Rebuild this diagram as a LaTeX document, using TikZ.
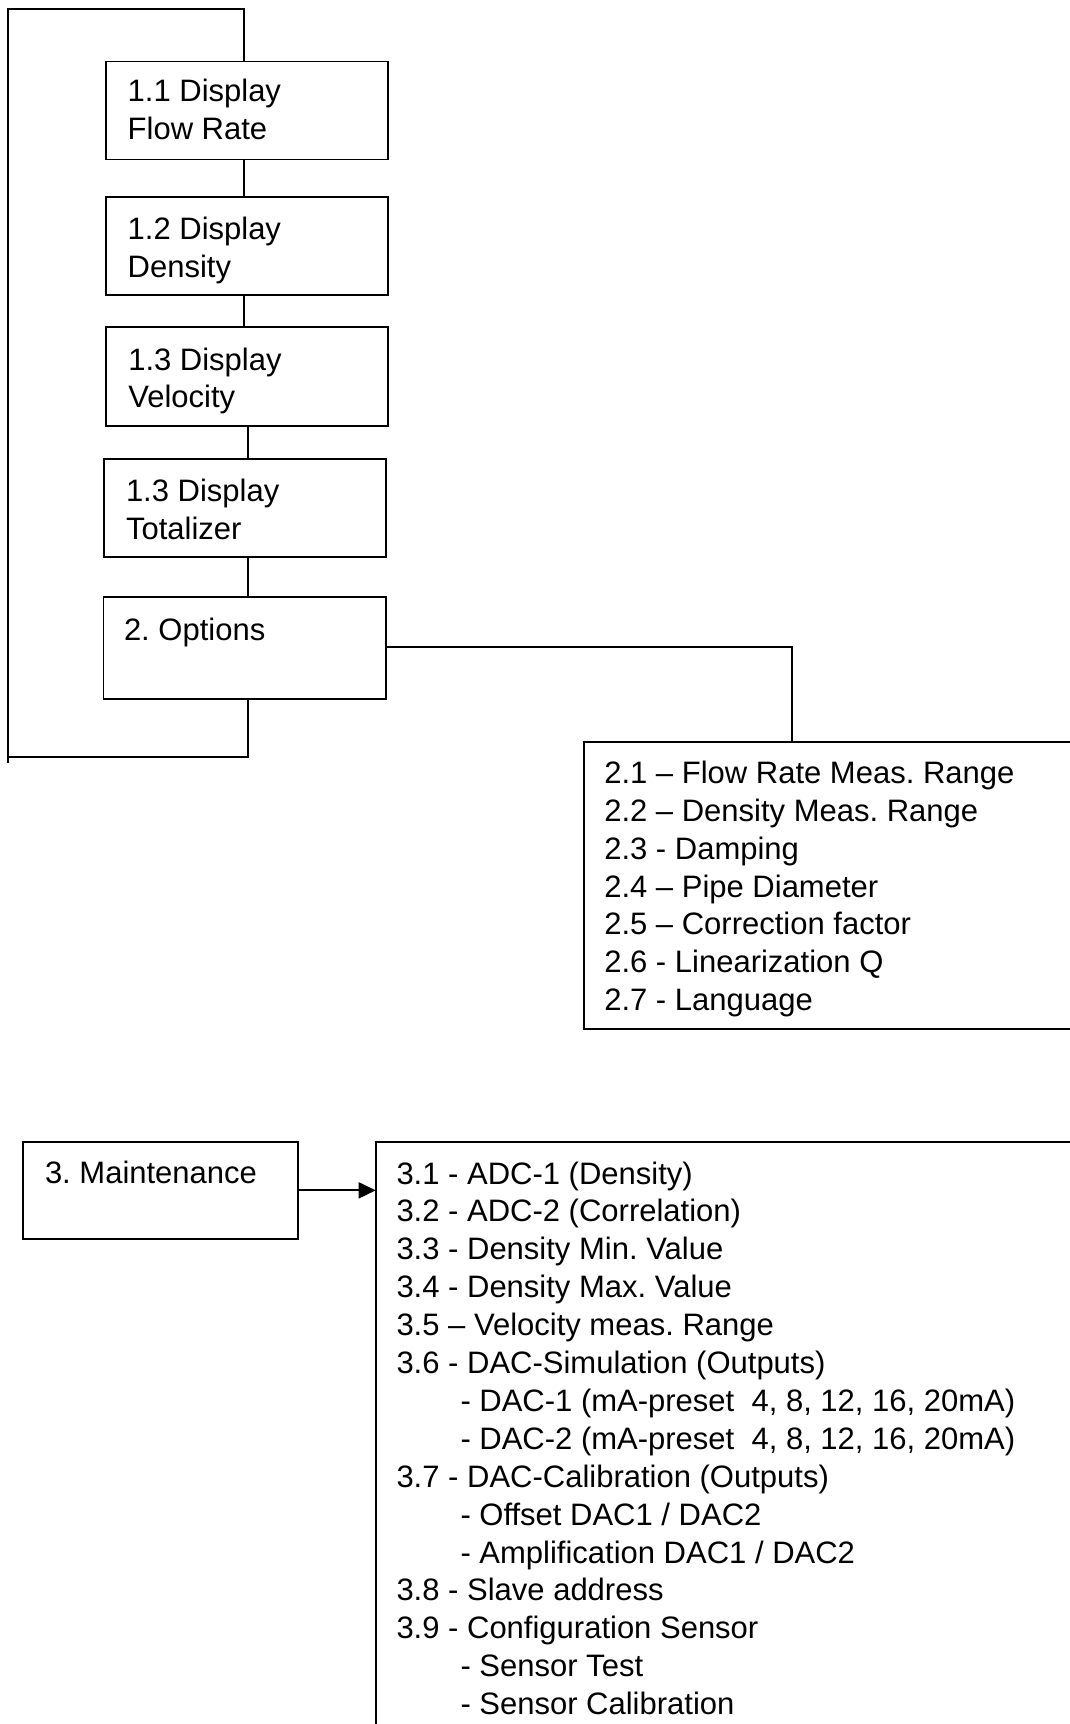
\documentclass[tikz,border=0pt]{standalone}
\usepackage{fontspec}
\setmainfont{Liberation Sans}
\usetikzlibrary{arrows.meta}
\frenchspacing
\newcommand{\stk}[1]{\vtop{\baselineskip=37.9pt\lineskiplimit=-100pt\lineskip=0pt #1}}
\newcommand{\ind}{\hskip64pt}
\begin{document}
\begin{tikzpicture}[x=1pt,y=-1pt,
  box/.style={draw=black,line width=1.8pt,rectangle,inner sep=0,outer sep=0,anchor=north west},
  txt/.style={anchor=base west,inner sep=0,outer sep=0,font=\fontsize{31}{37.9}\selectfont},
  conn/.style={draw=black,line width=1.8pt}]
\useasboundingbox (0,0) rectangle (1070,1724);
\clip (0,0) rectangle (1070,1724);
% boxes
\node[box,minimum width=282.6pt,minimum height=98pt] (b11) at (105.7,61.5) {};
\node[box,minimum width=282.6pt,minimum height=98pt] (b12) at (105.7,197.3) {};
\node[box,minimum width=282.6pt,minimum height=98.4pt] (b13v) at (105.7,327.3) {};
\node[box,minimum width=282.3pt,minimum height=98pt] (b13t) at (103.7,459.3) {};
\node[box,minimum width=282.5pt,minimum height=102.3pt] (bopt) at (103.5,597) {};
\node[box,minimum width=500pt,minimum height=287.6pt] (b2) at (583.7,741.7) {};
\node[box,minimum width=275pt,minimum height=97.3pt] (bm) at (23.3,1141.7) {};
\node[box,minimum width=710pt,minimum height=620pt] (b3) at (375.7,1142) {};
% texts
\node[txt] (t11) at (127.7,101.7) {\stk{\hbox{1.1 Display}\hbox{Flow Rate}}};
\node[txt] (t12) at (127.7,239.3) {\stk{\hbox{1.2 Display}\hbox{Density}}};
\node[txt] (t13v) at (128.3,370) {\stk{\hbox{1.3 Display}\hbox{Velocity}}};
\node[txt] (t13t) at (126,501.7) {\stk{\hbox{1.3 Display}\hbox{Totalizer}}};
\node[txt] (topt) at (124,640) {2. Options};
\node[txt] (t2) at (604.3,783.3) {\stk{%
  \hbox{2.1 – Flow Rate Meas. Range}%
  \hbox{2.2 – Density Meas. Range}%
  \hbox{2.3 - Damping}%
  \hbox{2.4 – Pipe Diameter}%
  \hbox{2.5 – Correction factor}%
  \hbox{2.6 - Linearization Q}%
  \hbox{2.7 - Language}}};
\node[txt] (tm) at (45,1183.3) {3. Maintenance};
\node[txt] (t3) at (396.5,1184) {\stk{%
  \hbox{3.1 - ADC-1 (Density)}%
  \hbox{3.2 - ADC-2 (Correlation)}%
  \hbox{3.3 - Density Min. Value}%
  \hbox{3.4 - Density Max. Value}%
  \hbox{3.5 – Velocity meas. Range}%
  \hbox{3.6 - DAC-Simulation (Outputs)}%
  \hbox{\ind- DAC-1 (mA-preset~ 4, 8, 12, 16, 20mA)}%
  \hbox{\ind- DAC-2 (mA-preset~ 4, 8, 12, 16, 20mA)}%
  \hbox{3.7 - DAC-Calibration (Outputs)}%
  \hbox{\ind- Offset DAC1 / DAC2}%
  \hbox{\ind- Amplification DAC1 / DAC2}%
  \hbox{3.8 - Slave address}%
  \hbox{3.9 - Configuration Sensor}%
  \hbox{\ind- Sensor Test}%
  \hbox{\ind- Sensor Calibration}}};
% connectors
\coordinate (topR) at (244,9);
\coordinate (topL) at (8,9);
\coordinate (botL) at (8,763.3);
\coordinate (loopB) at (248,757.3);
\coordinate (loopL) at (8,757.3);
\coordinate (optR) at (792.3,647);
\draw[conn] (244,0 |- b11.north) -- (topR) -- (topL) -- (botL);
\draw[conn] (244,0 |- b11.south) -- (244,0 |- b12.north);
\draw[conn] (244,0 |- b12.south) -- (244,0 |- b13v.north);
\draw[conn] (248,0 |- b13v.south) -- (248,0 |- b13t.north);
\draw[conn] (248,0 |- b13t.south) -- (248,0 |- bopt.north);
\draw[conn] (248,0 |- bopt.south) -- (loopB) -- (loopL);
\draw[conn] (bopt.east |- optR) -- (optR) -- (optR |- b2.north);
\draw[conn,-{Triangle[length=17pt,width=16pt]}] (bm.east) -- (bm.east -| b3.west);
\end{tikzpicture}
\end{document}
